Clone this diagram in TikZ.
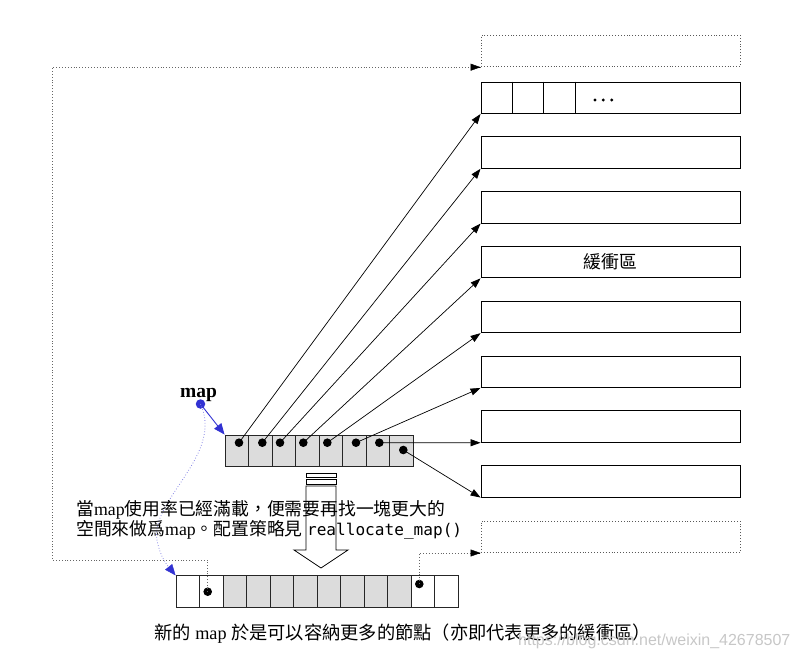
\documentclass[tikz,border=0pt]{standalone}
\usepackage{fontspec}
\setmainfont{Liberation Serif}
\newfontfamily\cjk{Noto Sans CJK TC}
\newfontfamily\monof{DejaVu Sans Mono}
\newfontfamily\wmf{Liberation Sans}
\usetikzlibrary{arrows.meta}
\definecolor{mblue}{RGB}{50,50,210}
\definecolor{cellgray}{RGB}{220,220,220}
\begin{document}
\begin{tikzpicture}[x=1pt,y=-1pt,
  box/.style={draw=black,line width=0.9pt,minimum width=259pt,minimum height=31.5pt,inner sep=0pt,anchor=center},
  dbox/.style={box,draw=black!65,dotted},
  cell/.style={draw=black!85,line width=0.9pt,fill=cellgray,minimum width=23.5pt,minimum height=31.7pt,inner sep=0pt},
  wcell/.style={cell,fill=white},
  dotn/.style={circle,fill=black,inner sep=0pt,minimum size=8.6pt},
  arr/.style={-{Triangle[length=10pt,width=7pt]},line width=0.7pt},
  dline/.style={dotted,line width=0.9pt,draw=black!60},
  txt/.style={anchor=base west,inner sep=0pt,font=\fontsize{17.8}{20}\selectfont},
]
\useasboundingbox (0,0) rectangle (798,658);

% right column
\node[dbox] (b0) at (610.5,51) {};
\foreach \i in {1,...,8} {
  \node[box] (b\i) at (610.5,{97.75+54.8*(\i-1)}) {};
}
\foreach \dx in {31.5,63,95} \draw[line width=0.9pt] ([xshift=\dx pt]b1.north west) -- ([xshift=\dx pt]b1.south west);
\fill (595,100) circle (1.6) (603.3,100) circle (1.6) (611.7,100) circle (1.6);
\node[font=\fontsize{17.8}{20}\selectfont\cjk,inner sep=0pt] (lbl) at (b4) {緩衝區};
\node[dbox] (bb) at (610.5,536.8) {};

% old map
\foreach \i in {1,...,8} {
  \node[cell] (m\i) at ({225+23.5*(\i-0.5)},450.85) {};
}
\node[dotn] (d1) at (239,442.7) {};
\node[dotn] (d2) at (262.3,442.7) {};
\node[dotn] (d3) at (280,442.7) {};
\node[dotn] (d4) at (303.3,442.7) {};
\node[dotn] (d5) at (327.3,442.7) {};
\node[dotn] (d6) at (356,442.7) {};
\node[dotn] (d7) at (379.3,442.7) {};
\node[dotn] (d8) at (403.3,450) {};
\foreach \i in {1,...,8} \draw[arr] (d\i.center) -- (b\i.south west);

% map label
\node[anchor=base west,inner sep=0pt,font=\fontsize{19.5}{22}\selectfont\bfseries] (maplbl) at (180,397) {map};
\node[circle,fill=mblue,inner sep=0pt,minimum size=9.5pt] (md) at (200.5,404) {};

% new map
\foreach \i in {1,...,12} {
  \node[wcell] (n\i) at ({176+23.525*(\i-0.5)},591.7) {};
}
\foreach \i in {3,...,10} \node[cell] at (n\i) {};
\node[dotn] (e1) at (207.7,591.7) {};
\node[dotn] (e2) at (419.3,584) {};

% dotted connectors
\coordinate (cl) at (52,560);
\draw[dline] (e1.center) |- (cl) |- (b0.south west);
\draw[-{Triangle[length=10pt,width=7pt]},black] ([xshift=-1pt]b0.south west) -- (b0.south west);
\draw[dline] (e2.center) |- (bb.south west);
\draw[-{Triangle[length=10pt,width=7pt]},black] ([xshift=-1pt]bb.south west) -- (bb.south west);

% blue arrows
\draw[mblue,line width=0.9pt,-{Triangle[length=11pt,width=9pt]}] (md.center) -- (m1.north west);
\draw[mblue!60,dotted,line width=0.8pt] (md.center) .. controls (224,455) and (150,500) .. (157,540) .. controls (160,556) and (166,565) .. (174,573);
\draw[mblue,-{Triangle[length=11pt,width=9pt]}] (172,571) -- (n1.north west);

% hollow arrow
\draw[fill=white,line width=0.8pt] (306,473) rectangle (336,477.5);
\draw[fill=white,line width=0.8pt] (306,479.5) rectangle (336,484);
\draw[fill=white,line width=0.8pt] (306,486) -- (336,486) -- (336,550) -- (348,550) -- (321,568) -- (294,550) -- (306,550) -- cycle;

% texts
\node[txt] (t1) at (76,515) {{\cjk 當}map{\cjk 使用率已經滿載，便需要再找一塊更大的}};
\node[txt] (t2) at (76,535) {{\cjk 空間來做爲}map{\cjk 。配置策略見} {\monof\fontsize{16.1}{18}\selectfont reallocate\_map()}};
\node[txt,font=\fontsize{18.25}{20}\selectfont] (t3) at (154,639) {{\cjk 新的} map {\cjk 於是可以容納更多的節點（亦即代表更多的緩衝區）}};
\node[anchor=base west,inner sep=0pt,font=\wmf\fontsize{16}{18}\selectfont,text=black!22] (wm) at (518,645) {https://blog.csdn.net/weixin\_42678507};
\end{tikzpicture}
\end{document}
